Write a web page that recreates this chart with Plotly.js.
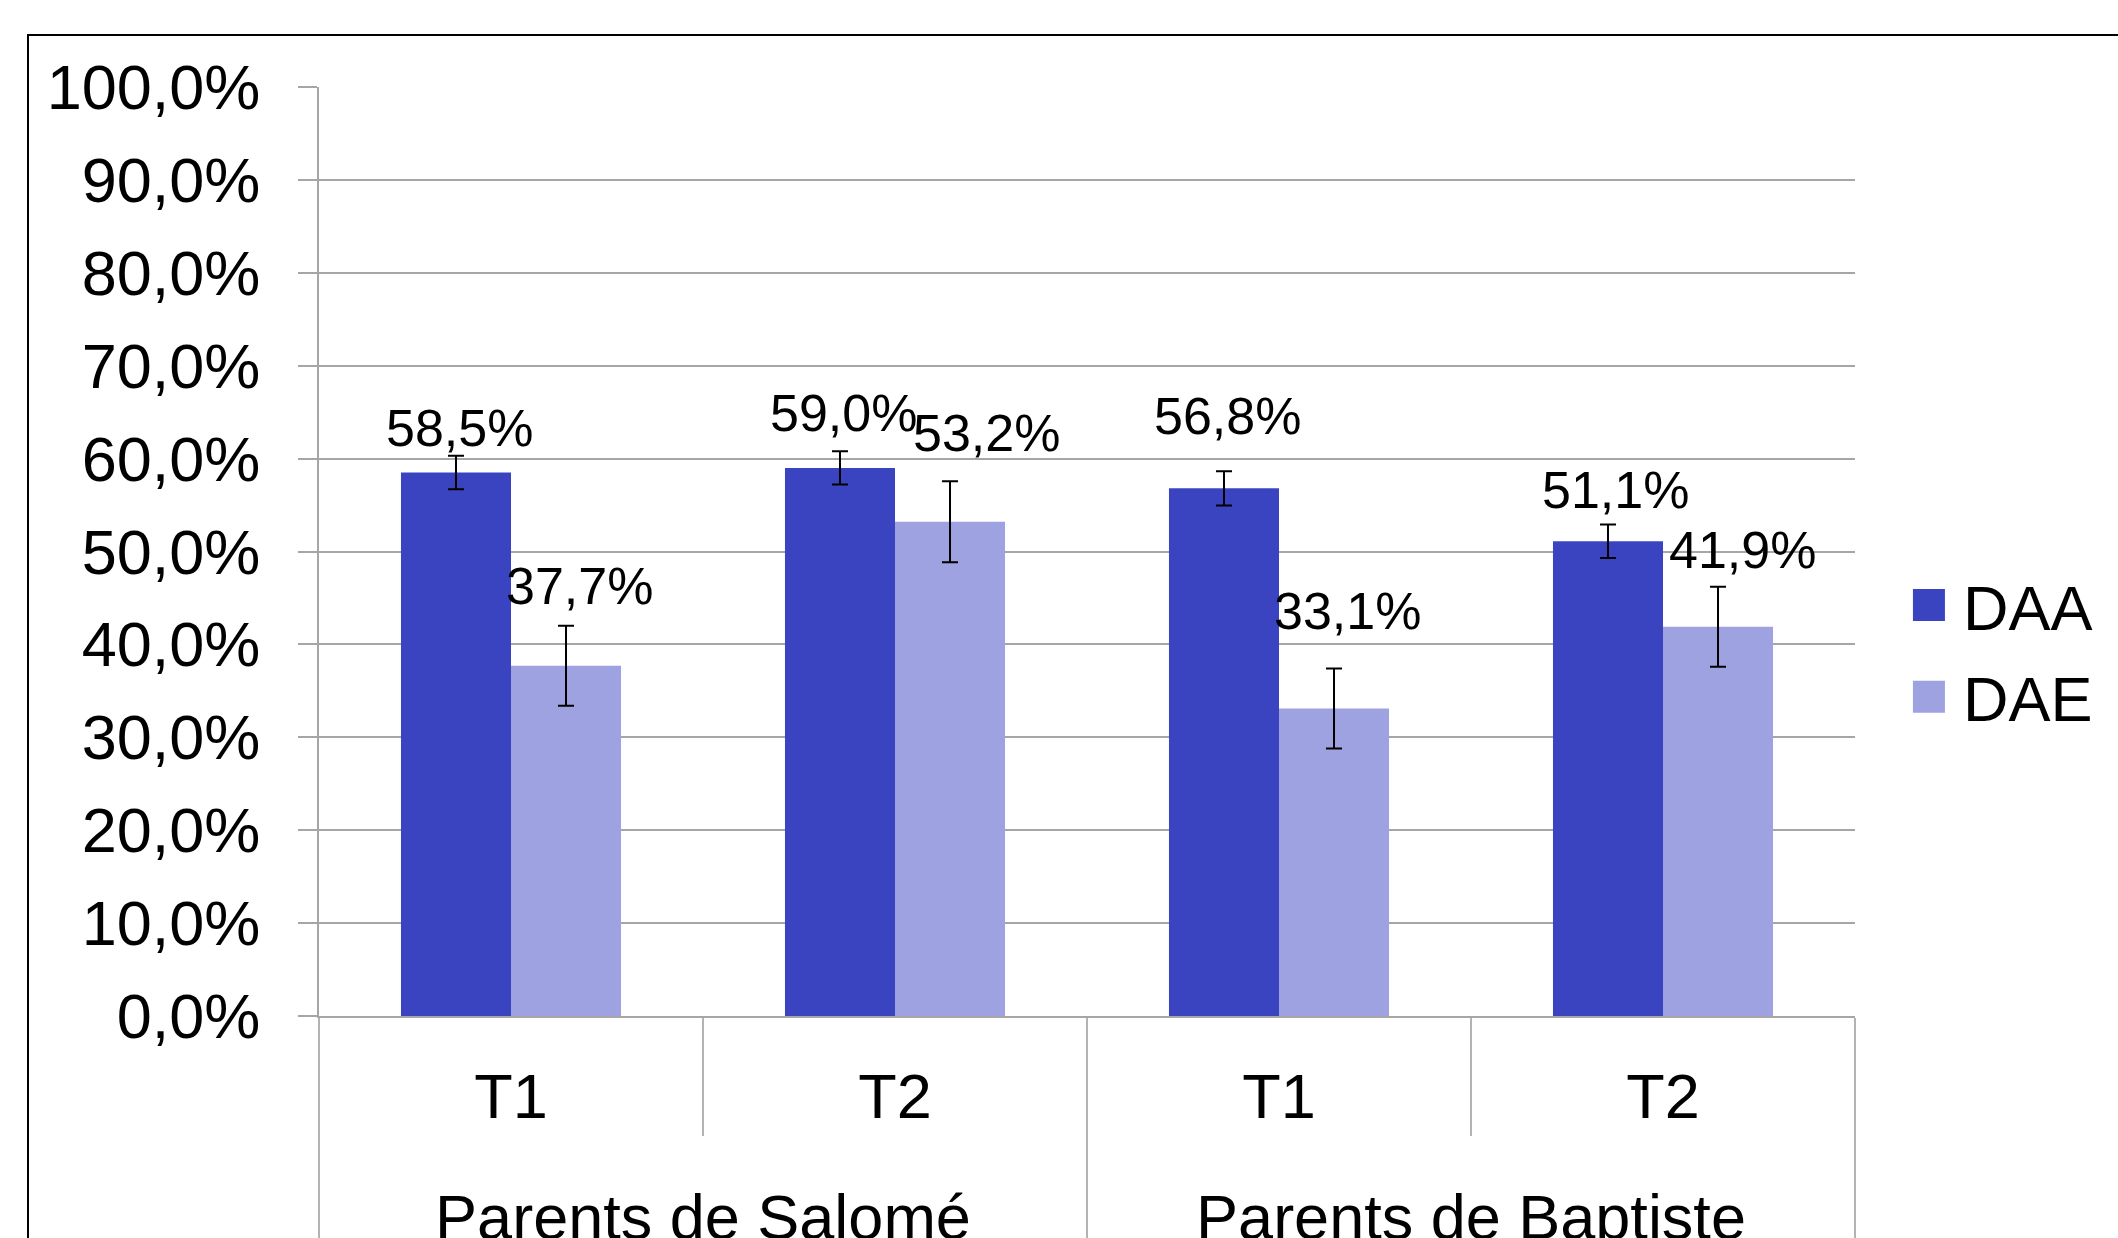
<!DOCTYPE html>
<html><head><meta charset="utf-8">
<script src="https://cdn.plot.ly/plotly-3.0.1.min.js"></script>
<style>
html,body{margin:0;padding:0;background:#fff;overflow:hidden;width:2118px;height:1238px;}
#chart{position:absolute;left:0;top:0;width:2118px;height:1238px;}
#frame{position:absolute;left:27px;top:34px;width:3000px;height:3000px;border:2px solid #000;pointer-events:none;}
</style></head><body>
<div id="chart"></div><div id="frame"></div>
<script>
// ---- data ----
const groups = ["Parents de Salomé", "Parents de Salomé", "Parents de Baptiste", "Parents de Baptiste"];
const times = ["T1", "T2", "T1", "T2"];
const seriesNames = ["DAA", "DAE"];
const daa = [0.585, 0.590, 0.568, 0.511];
const dae = [0.377, 0.532, 0.331, 0.419];
const daaErr = [0.018, 0.018, 0.0185, 0.018];
const daeErr = [0.043, 0.0435, 0.043, 0.043];

// ---- styling / label nudges (px) ----
const colors = ["#3b44c0", "#9ea2e0"];
const gridGray = "#a6a6a6";
const sepGray = "#b3b3b3";
const font = "Liberation Sans, Arial, sans-serif";
const W = 2118, H = 1238;
const margin = {l: 319, r: 263, t: 87, b: 222, pad: 0};
const bargap = 0.427;
const daaNudgeX = [4, 4, 4, 8], daaNudgeY = [9, 19, 36, 16];
const daeNudgeX = [13, 36, 13, 24], daeNudgeY = [21, 29, 39, 18];
const groupLabelDrop = 73;   // extra spacing between the two label rows (px)

const catPx = (W - margin.l - margin.r) / groups.length;
const barOffset = catPx * (1 - bargap) / 4;
const fmt = v => (v * 100).toFixed(1).replace('.', ',') + '%';

const traces = [
  {type: 'bar', name: seriesNames[0], x: [groups, times], y: daa,
   marker: {color: colors[0], line: {width: 0}},
   error_y: {type: 'data', array: daaErr, visible: true, color: '#000', thickness: 2, width: 8},
   legend: 'legend'},
  {type: 'bar', name: seriesNames[1], x: [groups, times], y: dae,
   marker: {color: colors[1], line: {width: 0}},
   error_y: {type: 'data', array: daeErr, visible: true, color: '#000', thickness: 2, width: 8},
   legend: 'legend2'}
];

const annotations = [];
function addLabels(vals, errs, sign, nx, ny) {
  vals.forEach((v, i) => {
    annotations.push({
      x: i, y: v + errs[i], xref: 'x', yref: 'y', text: fmt(v), showarrow: false,
      xanchor: 'center', yanchor: 'bottom',
      xshift: sign * barOffset + nx[i], yshift: ny[i] - 12,
      font: {family: font, size: 52, color: '#000'}
    });
  });
}
addLabels(daa, daaErr, -1, daaNudgeX, daaNudgeY);
addLabels(dae, daeErr, 1, daeNudgeX, daeNudgeY);

const layout = {
  width: W, height: H, margin: margin,
  paper_bgcolor: 'rgba(0,0,0,0)', plot_bgcolor: '#fff',
  font: {family: font, size: 63, color: '#000'},
  separators: ', ',
  barmode: 'group', bargap: bargap, bargroupgap: 0,
  showlegend: true,
  hovermode: false,
  xaxis: {
    type: 'multicategory', showline: true, linecolor: gridGray, linewidth: 2,
    ticks: 'outside', ticklen: 118, tickwidth: 1.5, tickcolor: sepGray,
    showdividers: true, dividercolor: sepGray, dividerwidth: 1.5,
    tickfont: {family: font, size: 63, color: '#000'},
    ticklabelstandoff: 24, showgrid: false, zeroline: false
  },
  yaxis: {
    range: [0, 1], dtick: 0.1, tick0: 0, tickformat: '.1%',
    showline: true, linecolor: gridGray, linewidth: 2,
    showgrid: true, gridcolor: gridGray, gridwidth: 2, zeroline: false,
    ticks: 'outside', ticklen: 19, tickwidth: 2, tickcolor: gridGray,
    ticklabelstandoff: 25,
    tickfont: {family: font, size: 63, color: '#000'}
  },
  legend: {x: 1.026, y: (1015.5 - 604.5) / 929, xanchor: 'left', yanchor: 'middle',
           itemwidth: 58, bgcolor: 'rgba(0,0,0,0)', borderwidth: 0,
           font: {family: font, size: 63, color: '#000'}},
  legend2: {x: 1.026, y: (1015.5 - 696.3) / 929, xanchor: 'left', yanchor: 'middle',
           itemwidth: 58, bgcolor: 'rgba(0,0,0,0)', borderwidth: 0,
           font: {family: font, size: 63, color: '#000'}},
  annotations: annotations
};

Plotly.newPlot('chart', traces, layout, {displayModeBar: false, staticPlot: true}).then(gd => {
  // larger legend swatches
  gd.querySelectorAll('.legendpoints path').forEach(p => p.setAttribute('d', 'M16,16H-16V-16H16Z'));
  // push the group-level labels further down, and run the group dividers to the bottom
  gd.querySelectorAll('g.xtick2').forEach(g => {
    g.setAttribute('transform', (g.getAttribute('transform') || '') + ' translate(0,' + groupLabelDrop + ')');
  });
  gd.querySelectorAll('path.xdivider').forEach(p => {
    const d = p.getAttribute('d');
    if (d) p.setAttribute('d', d.replace(/v[-\d.]+/, 'v400'));
  });
});
</script>
</body></html>
